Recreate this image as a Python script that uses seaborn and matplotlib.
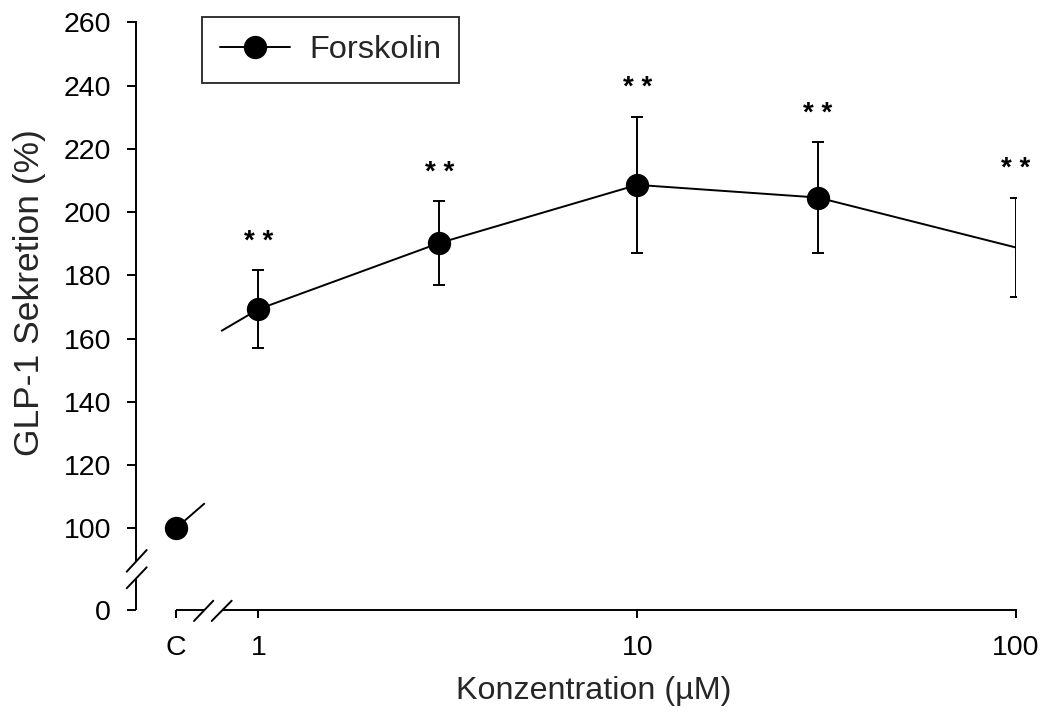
import matplotlib
matplotlib.use("Agg")
import matplotlib.pyplot as plt
from matplotlib.lines import Line2D
from matplotlib.ticker import NullLocator
import numpy as np
import pandas as pd
import seaborn as sns

# ---------------- data ----------------
concentrations = [1, 3, 10, 30, 100]            # µM
means = [169.3, 190.2, 208.6, 204.6, 188.8]     # GLP-1 secretion (%)
sems = [12.3, 13.2, 21.5, 17.5, 15.8]
control_mean = 100.0
significance = ["* *", "* *", "* *", "* *", "* *"]
marker_shown = [True, True, True, True, False]
x_tick_labels = ["C", "1", "10", "100"]
y_tick_values = [100, 120, 140, 160, 180, 200, 220, 240, 260]
y_tick_labels = ["0"] + [str(v) for v in y_tick_values]
series_name = "Forskolin"

# ---------------- layout ----------------
W, H = 1044, 713
C_POS = 0.605          # x position used for the control "C"
X_LEFT, X_RIGHT = 0.475, 100
Y_ZERO, Y_TOP = 74.2, 260   # axis position labelled "0" (below the break)
LW = 1.4

sns.set_style("ticks")
plt.rcParams["font.family"] = ["Liberation Sans", "DejaVu Sans"]

fig = plt.figure(figsize=(W / 100, H / 100), dpi=100)
ax = fig.add_axes([136 / W, 1 - 610 / H, 880 / W, (610 - 22.3) / H])
ax.set_xscale("log")
ax.set_xlim(X_LEFT, X_RIGHT)
ax.set_ylim(Y_ZERO, Y_TOP)

df = pd.DataFrame({"conc": concentrations, "mean": means, "sem": sems,
                   "marker": marker_shown})

# main line
sns.lineplot(data=df, x="conc", y="mean", color="black", lw=LW, ax=ax,
             legend=False, zorder=2)
# error bars
ax.errorbar(df["conc"], df["mean"], yerr=df["sem"], fmt="none",
            ecolor="black", elinewidth=LW, capsize=4.3, capthick=LW, zorder=2)
# markers
mk = df[df["marker"]]
sns.scatterplot(x=[C_POS] + list(mk["conc"]), y=[control_mean] + list(mk["mean"]),
                color="black", s=16.8 ** 2, linewidth=0, ax=ax, zorder=3,
                legend=False)

# line stubs at the axis break (control -> 1 µM)
ax.plot([C_POS, 0.719], [control_mean, control_mean + 7.8], color="black", lw=LW)
ax.plot([0.800, concentrations[0]], [means[0] - 6.8, means[0]], color="black", lw=LW)

# significance stars
for c, m, s, txt in zip(concentrations, means, sems, significance):
    ax.annotate(txt, (c, m + s), xytext=(0, 15.5), textcoords="offset points",
                ha="center", va="baseline", fontsize=20, fontweight="bold",
                color="black")

# ---------------- axes styling ----------------
for side in ("top", "right"):
    ax.spines[side].set_visible(False)
for side in ("left", "bottom"):
    ax.spines[side].set_linewidth(LW)
    ax.spines[side].set_color("black")
ax.spines["left"].set_bounds(89.6, Y_TOP)
ax.spines["bottom"].set_bounds(0.804, X_RIGHT)
# lower / left pieces of the broken axes
ax.plot([0, 0], [Y_ZERO, 84.3], transform=ax.get_yaxis_transform(),
        color="black", lw=LW, clip_on=False, solid_capstyle="butt")
ax.plot([C_POS, 0.720], [0, 0], transform=ax.get_xaxis_transform(),
        color="black", lw=LW, clip_on=False, solid_capstyle="butt")


def px(x, y):
    return x / W, 1 - y / H


# break marks
for (x0, y0), (x1, y1) in [((126.7, 571.7), (146.7, 550.0)),
                           ((126.7, 588.3), (146.7, 567.3)),
                           ((194.0, 621.0), (213.3, 600.7)),
                           ((211.7, 621.0), (231.7, 600.7))]:
    a, b = px(x0, y0), px(x1, y1)
    fig.add_artist(Line2D([a[0], b[0]], [a[1], b[1]], transform=fig.transFigure,
                          color="black", lw=LW))

ax.set_xticks([C_POS, 1, 10, 100])
ax.set_xticklabels(x_tick_labels)
ax.xaxis.set_minor_locator(NullLocator())
ax.set_yticks([Y_ZERO] + y_tick_values)
ax.set_yticklabels(y_tick_labels)
ax.tick_params(axis="both", direction="out", width=LW, colors="black",
               labelsize=20.5)
ax.tick_params(axis="y", length=6.5, pad=11.5)
ax.tick_params(axis="x", length=5.8, pad=12)

ax.set_xlabel("Konzentration (µM)", fontsize=23.2)
ax.set_ylabel("GLP-1 Sekretion (%)", fontsize=25.5)
ax.xaxis.set_label_coords((594 - 136) / 880, -0.138)
ax.yaxis.set_label_coords((30 - 136) / 880, (610 - 292.5) / 587.7)
ax.xaxis.label.set_va("center")
ax.yaxis.label.set_va("center")

# legend
handle = Line2D([], [], color="black", lw=LW, marker="o", markersize=16.8,
                markeredgewidth=0)
leg = fig.legend([handle], [series_name], loc="upper left",
                 bbox_to_anchor=px(202, 17), bbox_transform=fig.transFigure,
                 fontsize=23.4, frameon=True, fancybox=False, shadow=False,
                 handlelength=2.15, handletextpad=0.6, borderpad=0.55,
                 borderaxespad=0)
leg.get_frame().set_edgecolor("black")
leg.get_frame().set_linewidth(LW)

fig.savefig("out.png", dpi=100)
